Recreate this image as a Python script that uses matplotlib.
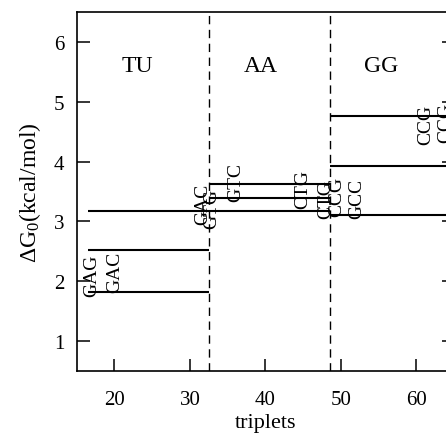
import matplotlib
matplotlib.use("Agg")
import matplotlib.pyplot as plt

plt.rcParams["font.family"] = ["Liberation Serif", "DejaVu Serif"]
plt.rcParams["mathtext.fontset"] = "custom"
plt.rcParams["mathtext.rm"] = "Liberation Serif"
plt.rcParams["mathtext.it"] = "Liberation Serif:italic"

# ── data ──────────────────────────────────────────────────────────────────────
region_names = ["TU", "AA", "GG"]
region_bounds = [16.5, 32.5, 48.5, 66.0]
region_label_x = [23.1, 39.4, 55.3]

# horizontal energy levels: (start, end, value)
level_x0 = [16.5, 16.5, 16.5, 32.5, 32.5, 48.5, 48.5, 48.5]
level_x1 = [32.5, 32.5, 48.5, 48.5, 48.5, 66.0, 66.0, 66.0]
level_y  = [1.81, 2.52, 3.18, 3.63, 3.39, 4.77, 3.92, 3.10]

# codon annotations
codon_text = ["GAG", "GAC", "GAC", "GTG", "GTC", "CTG", "CTG", "CCG", "GCC", "CCG", "CCG"]
codon_x    = [17.0, 20.0, 31.7, 32.9, 36.1, 45.0, 48.0, 49.5, 52.1, 61.2, 63.9]
codon_y    = [2.10, 2.17, 3.30, 3.22, 3.66, 3.55, 3.38, 3.43, 3.40, 4.63, 4.67]

# ── canvas ────────────────────────────────────────────────────────────────────
fig = plt.figure(figsize=(4.46, 4.35), dpi=100)
ax = fig.add_axes([0.172, 0.1455, 0.846, 0.824])
ax.set_xlim(15, 65)
ax.set_ylim(0.5, 6.5)

ax.hlines(level_y, level_x0, level_x1, colors="black", lw=1.5, zorder=3)

# region borders
for b in region_bounds[1:-1]:
    ax.axvline(b, color="black", lw=1.0, ls=(0, (6, 4)), zorder=2)

for name, xc in zip(region_names, region_label_x):
    ax.text(xc, 5.61, name, ha="center", va="center", fontsize=17)

for t, x, y in zip(codon_text, codon_x, codon_y):
    ax.text(x, y, t, rotation=90, ha="center", va="center", fontsize=14,
            zorder=4)

ax.set_xticks([20, 30, 40, 50, 60])
ax.set_yticks([1, 2, 3, 4, 5, 6])
ax.tick_params(direction="in", length=9, width=1.1, right=True, top=False,
               labelsize=15)
ax.tick_params(axis="x", pad=14)
ax.tick_params(axis="y", pad=9)
for s in ax.spines.values():
    s.set_linewidth(1.2)

ax.set_xlabel("triplets", fontsize=16, labelpad=3)
ax.set_ylabel(r"$\Delta$G$_0$(kcal/mol)", fontsize=17, labelpad=8)

fig.savefig("out.png", dpi=100, facecolor="white")
